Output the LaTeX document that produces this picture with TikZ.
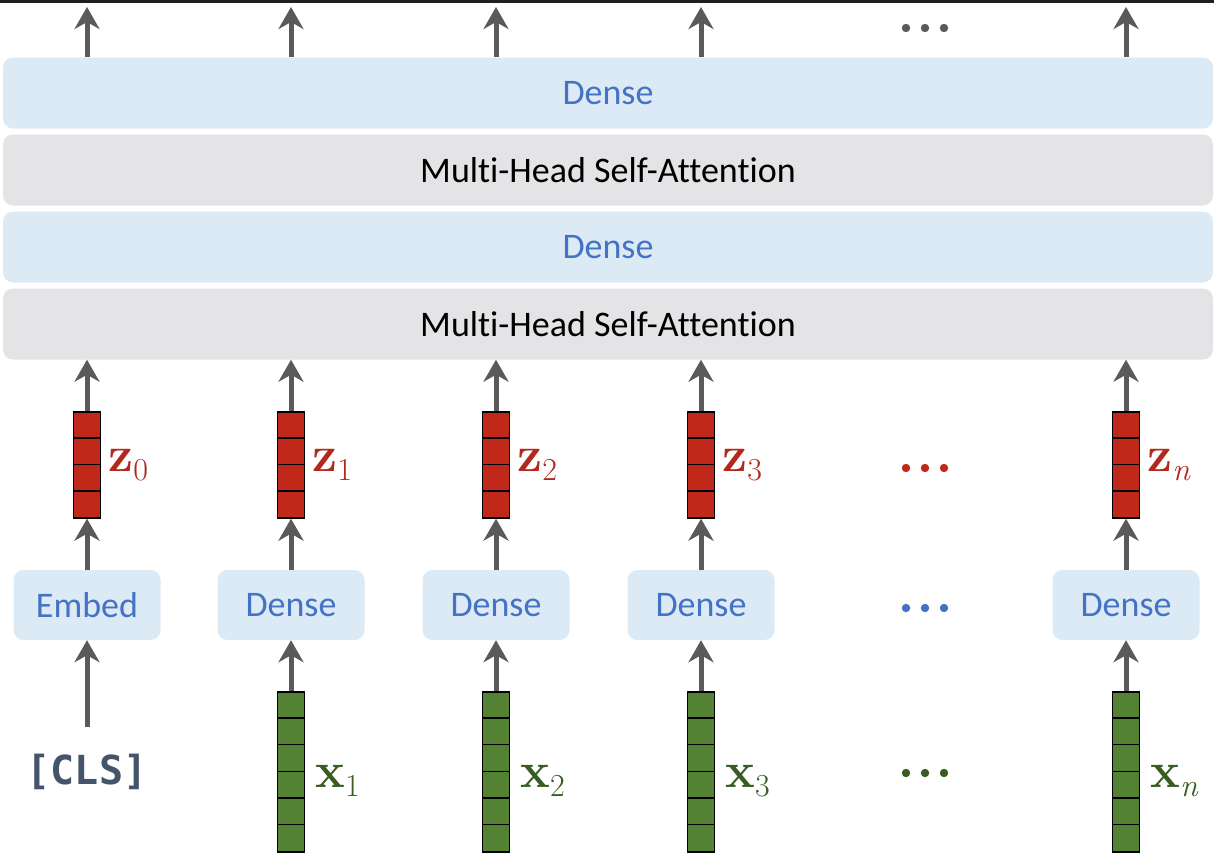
\documentclass[tikz,border=0pt]{standalone}
\usepackage{fontspec}
\setmainfont{Carlito}[Ligatures=CommonOff]
\setmonofont{DejaVu Sans Mono}
\newfontfamily\vecfont{Latin Modern Roman}
\newcommand\veclab[2]{{\bfseries #1}\raisebox{-9pt}{\fontsize{32}{32}\selectfont #2}}
\usetikzlibrary{arrows.meta,positioning,backgrounds}
\definecolor{LayerBlue}{RGB}{220,234,246}
\definecolor{LayerText}{RGB}{68,114,196}
\definecolor{AttnGray}{RGB}{228,228,230}
\definecolor{TokRed}{RGB}{192,41,26}
\definecolor{TokRedText}{RGB}{178,40,28}
\definecolor{TokGreen}{RGB}{84,130,53}
\definecolor{TokGreenText}{RGB}{56,92,34}
\definecolor{FlowGray}{RGB}{90,90,90}
\definecolor{ClsSlate}{RGB}{68,84,106}

\begin{document}
\begin{tikzpicture}[
    x=1pt,y=-1pt,
    bar/.style={rounded corners=10pt, minimum width=1210pt, minimum height=71pt, inner sep=0pt, font=\fontsize{36}{36}\selectfont},
    densebar/.style={bar, fill=LayerBlue, text=LayerText},
    attnbar/.style={bar, fill=AttnGray, text=black},
    tokbox/.style={rounded corners=10pt, fill=LayerBlue, text=LayerText, minimum width=147pt, minimum height=70pt, inner sep=0pt, font=\fontsize{36}{36}\selectfont},
    zvec/.style={draw=black, line width=1.3pt, fill=TokRed, minimum width=27pt, minimum height=106pt, inner sep=0pt},
    xvec/.style={draw=black, line width=1.3pt, fill=TokGreen, minimum width=27pt, minimum height=160pt, inner sep=0pt},
    zlab/.style={inner sep=0pt, text=TokRedText, font=\vecfont\fontsize{50}{50}\selectfont},
    xlab/.style={inner sep=0pt, text=TokGreenText, font=\vecfont\fontsize{50}{50}\selectfont},
    flow/.style={-{Stealth[length=22pt,width=25pt,inset=7pt]}, line width=5pt, draw=FlowGray},
    stub/.style={line width=4pt, draw=FlowGray}
  ]
    \useasboundingbox (0,0) rectangle (1214,852);
    \fill[white] (0,0) rectangle (1214,852);
    \fill[black!88] (0,0) rectangle (1214,2.5);

    % encoder layers
    \node[densebar] (dense2) at (608,93) {Dense};
    \node[attnbar] (mhsa1) at (608,170) {Multi-Head Self-Attention};
    \node[densebar] (dense1) at (608,247) {Dense};
    \node[attnbar] (mhsa0) at (608,324) {Multi-Head Self-Attention};

    % [CLS] column
    \node[font=\fontsize{40}{40}\ttfamily\bfseries, text=ClsSlate, inner sep=0pt, outer ysep=27pt] (cls) at (87,772) {[CLS]};
    \node[tokbox] (emb) at (87,605) {Embed};
    \node[zvec] (z0) at (87,465) {};
    \node[zlab, right=7pt of z0] (zl0) {\veclab{z}{0}};
    \draw[flow] (cls.north) -- (emb);
    \draw[flow] (emb) -- (z0);

    % token columns
    \foreach \i/\x/\s in {1/291/1,2/496/2,3/701/3,n/1126/\itshape n} {
      \node[xvec] (x\i) at (\x,772) {};
      \node[xlab, right=10pt of x\i, yshift=-9pt] (xl\i) {\veclab{x}{\s}};
      \node[tokbox] (d\i) at (\x,605) {Dense};
      \node[zvec] (z\i) at (\x,465) {};
      \node[zlab, right=7pt of z\i] (zl\i) {\veclab{z}{\s}};
      \foreach \k in {1,...,5} {\draw[line width=1.3pt] (x\i.north west) ++(0,\k*26.67) -- ++(27,0);}
      \draw[flow] (x\i) -- (d\i);
      \draw[flow] (d\i) -- (z\i);
    }

    % vector cells, arrows through the stack
    \foreach \i/\x in {0/87,1/291,2/496,3/701,n/1126} {
      \foreach \k in {1,2,3} {\draw[line width=1.3pt] (z\i.north west) ++(0,\k*26.5) -- ++(27,0);}
      \draw[flow] (z\i) -- (z\i |- mhsa0.south);
      \coordinate (top\i) at (\x,7);
      \draw[flow] (z\i |- dense2.north) -- (top\i);
      \begin{scope}[on background layer]
        \draw[stub, shorten >=4pt] (z\i |- dense1.south) -- (z\i |- mhsa0.north);
        \draw[stub, shorten >=4.5pt] (z\i |- mhsa1.south) -- (z\i |- dense1.north);
      \end{scope}
    }

    % ellipses
    \foreach \y/\c in {28/FlowGray,468/TokRed,608/LayerText,773/TokGreenText} {
      \foreach \dx in {906,925,944} {\fill[\c] (\dx,\y) circle (4.2);}
    }
  \end{tikzpicture}
\end{document}
